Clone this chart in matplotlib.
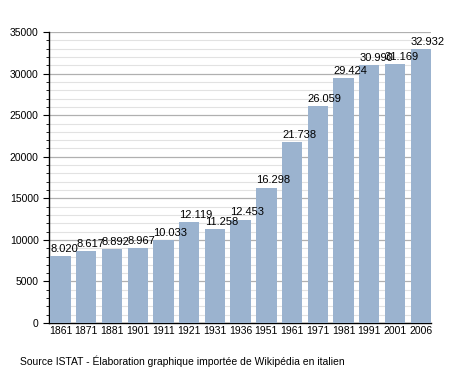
import matplotlib
matplotlib.use("Agg")
import matplotlib.pyplot as plt
from matplotlib.ticker import MultipleLocator

years = ["1861", "1871", "1881", "1901", "1911", "1921", "1931", "1936",
         "1951", "1961", "1971", "1981", "1991", "2001", "2006"]
population = [8020, 8617, 8892, 8967, 10033, 12119, 11258, 12453,
              16298, 21738, 26059, 29424, 30990, 31169, 32932]
labels = ["8.020", "8.617", "8.892", "8.967", "10.033", "12.119", "11.258", "12.453",
          "16.298", "21.738", "26.059", "29.424", "30.990", "31.169", "32.932"]

plt.rcParams['font.family'] = ['Liberation Sans', 'DejaVu Sans']

fig = plt.figure(figsize=(4.58, 3.73), dpi=100)
ax = fig.add_axes([0.107, 0.134, 0.834, 0.780])

x = list(range(len(years)))
w = 0.79
ax.bar(x, population, width=w, color="#9bb3cf", zorder=3)
for xi, v, lab in zip(x, population, labels):
    ax.text(xi - w / 2, v + 250, lab, ha="left", va="bottom", fontsize=8, zorder=4)

ax.set_xlim(-0.5 + (1 - w) / 2 - 0.05, len(years) - 0.5 - (1 - w) / 2)
ax.set_ylim(0, 35000)
ax.yaxis.set_major_locator(MultipleLocator(5000))
ax.yaxis.set_minor_locator(MultipleLocator(1000))
ax.grid(which="major", axis="y", color="#b0b0b0", linewidth=0.9, zorder=0)
ax.grid(which="minor", axis="y", color="#e2e2e2", linewidth=0.8, zorder=0)
ax.set_xticks(x)
ax.set_xticklabels(years, fontsize=7.5)
ax.tick_params(axis="x", length=0, pad=2.5)
ax.tick_params(axis="y", which="major", length=4, labelsize=7.5, direction="out")
ax.tick_params(axis="y", which="minor", length=2.5, direction="out")
for s in ["top", "right"]:
    ax.spines[s].set_visible(False)
ax.spines["left"].set_linewidth(1.0)
ax.spines["bottom"].set_linewidth(1.0)

fig.text(0.044, 0.015, "Source ISTAT - Élaboration graphique importée de Wikipédia en italien",
         fontsize=7.5, ha="left", va="bottom")

fig.savefig("out.png", dpi=100)
